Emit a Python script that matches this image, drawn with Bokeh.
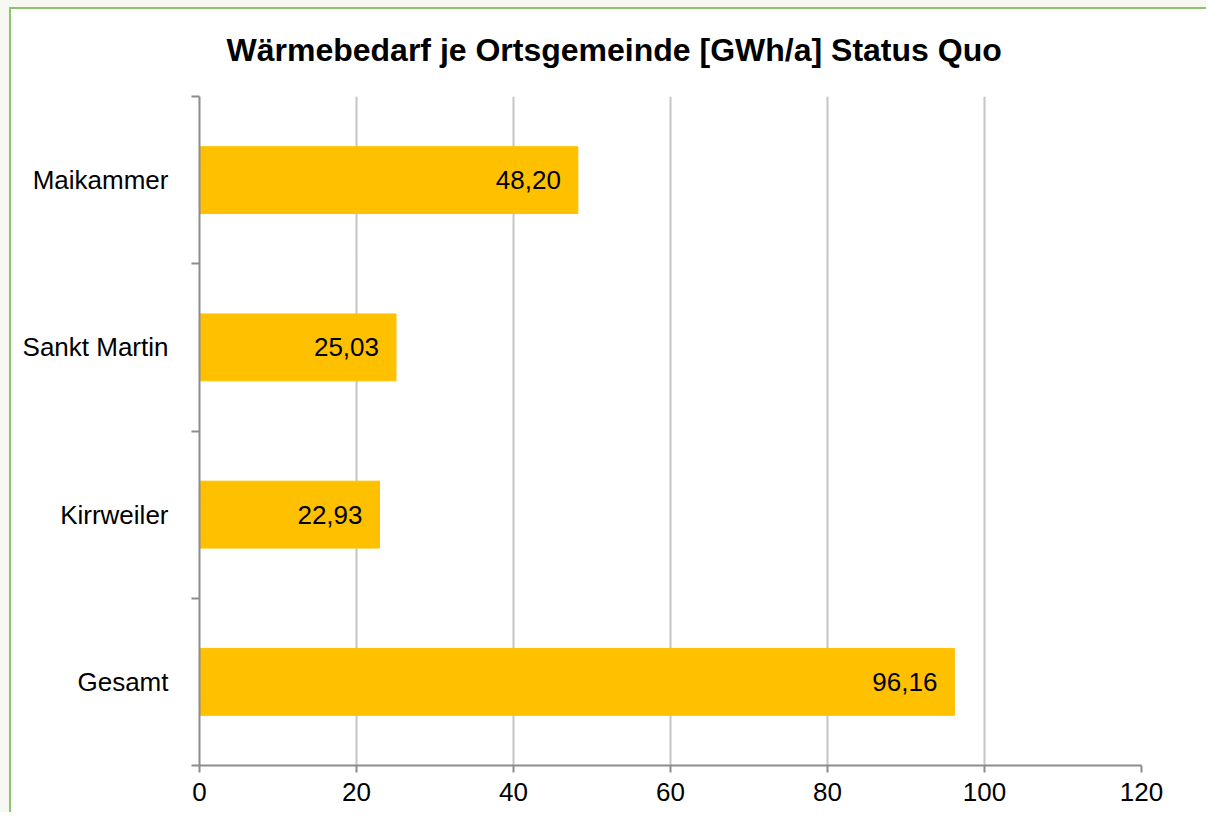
from bokeh.plotting import figure
from bokeh.models import FixedTicker, ColumnDataSource, LabelSet, Range1d
from bokeh.core.properties import value
from bokeh.embed import file_html
from bokeh.resources import INLINE

categories = ["Gesamt", "Kirrweiler", "Sankt Martin", "Maikammer"]
values = [96.16, 22.93, 25.03, 48.20]
x_ticks = [0, 20, 40, 60, 80, 100, 120]

FONT = "Liberation Sans"
ypos = [i + 0.5 for i in range(len(categories))]
labels = [f"{v:.2f}".replace(".", ",") for v in values]
src = ColumnDataSource(dict(y=ypos, v=values, lab=labels, cat=categories))

p = figure(width=1206, height=812, output_backend="svg", toolbar_location=None,
           x_range=Range1d(0, 120), y_range=Range1d(0, len(categories)),
           title="Wärmebedarf je Ortsgemeinde [GWh/a] Status Quo",
           min_border_left=199, min_border_right=65, min_border_top=0,
           min_border_bottom=47)
G = "linear-gradient(#8DC36C, #8DC36C)"
C = "linear-gradient(#F7F8F2, #F7F8F2)"
p.styles = {"background-color": "white",
            "background-image": f"{G}, {G}, {C}, {C}",
            "background-size": "100% 2px, 2px 100%, 100% 7px, 9px 100%",
            "background-position": "9px 7px, 9px 7px, 0px 0px, 0px 0px",
            "background-repeat": "no-repeat"}

p.title.text_font = FONT
p.title.text_font_size = "32px"
p.title.text_font_style = "bold"
p.title.text_color = "#000000"
p.title.align = "left"
p.title.offset = 27
p.title.standoff = 58

p.hbar(y="y", right="v", left=0, height=0.4, source=src, color="#FFC000")
p.add_layout(LabelSet(x="v", y="y", text="lab", source=src, x_offset=-17,
                      text_align="right", text_baseline="middle",
                      text_font=value(FONT), text_font_size="26px", text_color="#000000"))

p.outline_line_color = None
p.background_fill_color = "white"
p.border_fill_color = None

p.ygrid.visible = False
p.xgrid.ticker = FixedTicker(ticks=x_ticks)
p.xgrid.grid_line_color = "#C4C4C4"
p.xgrid.grid_line_width = 2

p.xaxis.ticker = FixedTicker(ticks=x_ticks)
p.xaxis.axis_line_color = "#8C8C8C"
p.xaxis.axis_line_width = 2
p.xaxis.major_tick_line_color = "#8C8C8C"
p.xaxis.major_tick_line_width = 2
p.xaxis.major_tick_out = 7
p.xaxis.major_tick_in = 0
p.xaxis.minor_tick_line_color = None
p.xaxis.major_label_text_font = FONT
p.xaxis.major_label_text_font_size = "26px"
p.xaxis.major_label_text_color = "#000000"
p.xaxis.major_label_standoff = 10

p.yaxis.ticker = FixedTicker(ticks=ypos, minor_ticks=list(range(len(categories) + 1)))
p.yaxis.major_label_overrides = {y: c for y, c in zip(ypos, categories)}
p.yaxis.axis_line_color = "#8C8C8C"
p.yaxis.axis_line_width = 2
p.yaxis.major_tick_line_color = None
p.yaxis.major_tick_out = 0
p.yaxis.major_tick_in = 0
p.yaxis.minor_tick_line_color = "#8C8C8C"
p.yaxis.minor_tick_line_width = 2
p.yaxis.minor_tick_out = 8
p.yaxis.minor_tick_in = 0
p.yaxis.major_label_text_font = FONT
p.yaxis.major_label_text_font_size = "26px"
p.yaxis.major_label_text_color = "#000000"
p.yaxis.major_label_standoff = 23

open("out.html", "w").write(file_html(p, INLINE))
